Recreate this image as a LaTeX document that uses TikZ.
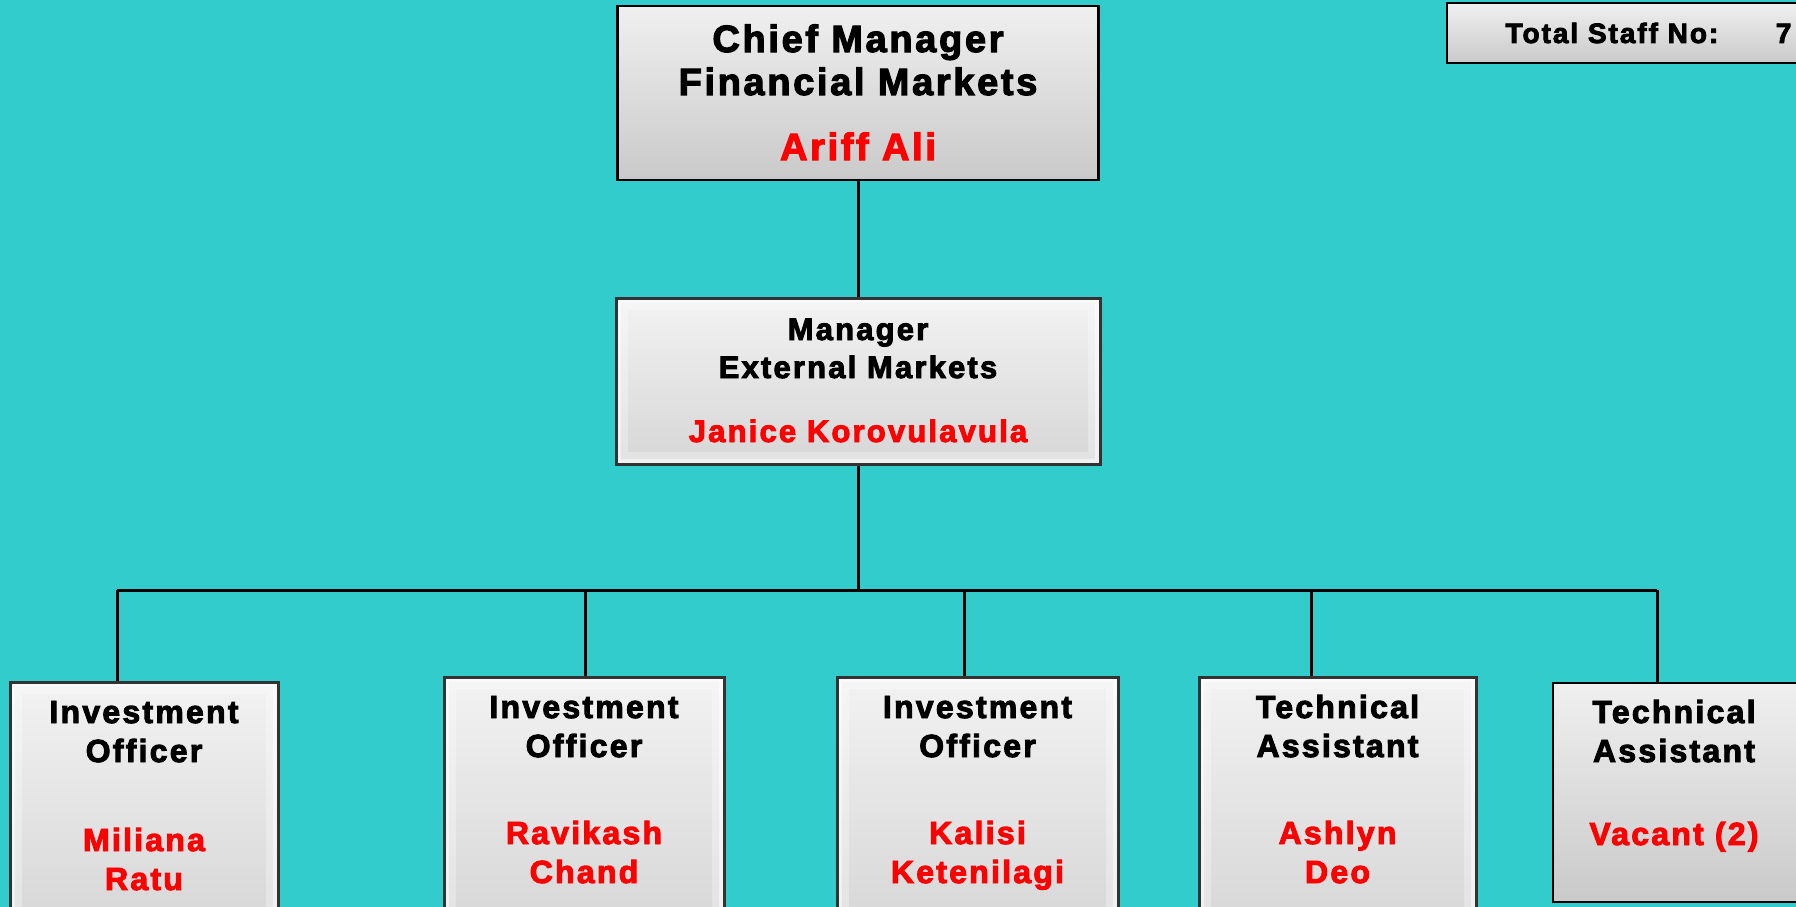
\documentclass[tikz,border=0pt]{standalone}
\usepackage{fontspec}
\setmainfont{Liberation Sans}[LetterSpace=7,BoldFeatures={FakeBold=3}]
\usepackage{tikz}
\usetikzlibrary{positioning}
\definecolor{sea}{RGB}{51,204,204}
\definecolor{namered}{RGB}{255,0,0}
\tikzset{plainbox/.style={draw=black,line width=2.5pt,top color=gray!12,bottom color=gray!42,inner sep=0pt}}
\tikzset{bevelbox/.style={draw=black!80,line width=3pt,top color=gray!10,bottom color=gray!32,inner sep=0pt,
  path picture={\draw[white,line width=24pt,opacity=.3] (path picture bounding box.south west) rectangle (path picture bounding box.north east);
    \draw[white,line width=10pt,opacity=.5] (path picture bounding box.south west) rectangle (path picture bounding box.north east);}}}
\tikzset{post/.style={font=\bfseries\fontsize{32}{39}\selectfont,align=center,anchor=base}}
\tikzset{bigpost/.style={post,font=\bfseries\fontsize{38}{43}\selectfont}}
\tikzset{midpost/.style={post,font=\bfseries\fontsize{31}{38}\selectfont}}
\tikzset{who/.style={text=namered}}
\tikzset{link/.style={line width=3pt}}

\begin{document}
\begin{tikzpicture}[x=1pt,y=-1pt]
  \fill[sea] (0,0) rectangle (1796,907);
  \useasboundingbox (0,0) rectangle (1796,907);
  \clip (0,0) rectangle (1796,907);
  \node[plainbox,minimum width=481pt,minimum height=174pt](chief) at (858,93){};
  \node[bevelbox,minimum width=484pt,minimum height=166pt](mgr) at (858,381){};
  \node[plainbox,minimum width=400pt,minimum height=60pt](total) at (1647,33){};
  \node[bevelbox,minimum width=268pt,minimum height=248pt](io1) at (144,806){};
  \node[bevelbox,minimum width=280pt,minimum height=253pt](io2) at (584,803.5){};
  \node[bevelbox,minimum width=281pt,minimum height=253pt](io3) at (977.5,803.5){};
  \node[bevelbox,minimum width=277pt,minimum height=253pt](ta1) at (1337.5,803.5){};
  \node[plainbox,minimum width=247pt,minimum height=219pt](ta2) at (1676.5,792.5){};
  \node[bigpost](chieft) at (858,95){Chief Manager\\Financial Markets};
  \node[bigpost,who](chiefn) at (858,160){Ariff Ali};
  \node[midpost](mgrt) at (858,378){Manager\\External Markets};
  \node[midpost,who](mgrn) at (858,442){Janice Korovulavula};
  \node[post,font=\bfseries\fontsize{28}{32}\selectfont,anchor=base west](totalt) at (1502,43){Total Staff No:~~\hspace{38pt}7};
  \node[post](io1t) at (144,762){Investment\\Officer};
  \node[post,who](io1n) at (144,890){Miliana\\Ratu};
  \node[post](io2t) at (584,757){Investment\\Officer};
  \node[post,who](io2n) at (584,883){Ravikash\\Chand};
  \node[post](io3t) at (977.5,757){Investment\\Officer};
  \node[post,who](io3n) at (977.5,883){Kalisi\\Ketenilagi};
  \node[post](ta1t) at (1337.5,757){Technical\\Assistant};
  \node[post,who](ta1n) at (1337.5,883){Ashlyn\\Deo};
  \node[post](ta2t) at (1674,762){Technical\\Assistant};
  \node[post,who](ta2n) at (1674,845){Vacant (2)};
  \coordinate(bus) at (858,590);
  \coordinate(d1) at (117,590);
  \coordinate(d2) at (585,590);
  \coordinate(d3) at (964,590);
  \coordinate(d4) at (1311,590);
  \coordinate(d5) at (1657,590);
  \draw[link] (chief) -- (mgr);
  \draw[link] (mgr) -- (bus);
  \draw[link] (d1) -- (d5);
  \draw[link] (d1) -- (d1 |- io1.north);
  \draw[link] (d2) -- (d2 |- io2.north);
  \draw[link] (d3) -- (d3 |- io3.north);
  \draw[link] (d4) -- (d4 |- ta1.north);
  \draw[link] (d5) -- (d5 |- ta2.north);
\end{tikzpicture}
\end{document}
